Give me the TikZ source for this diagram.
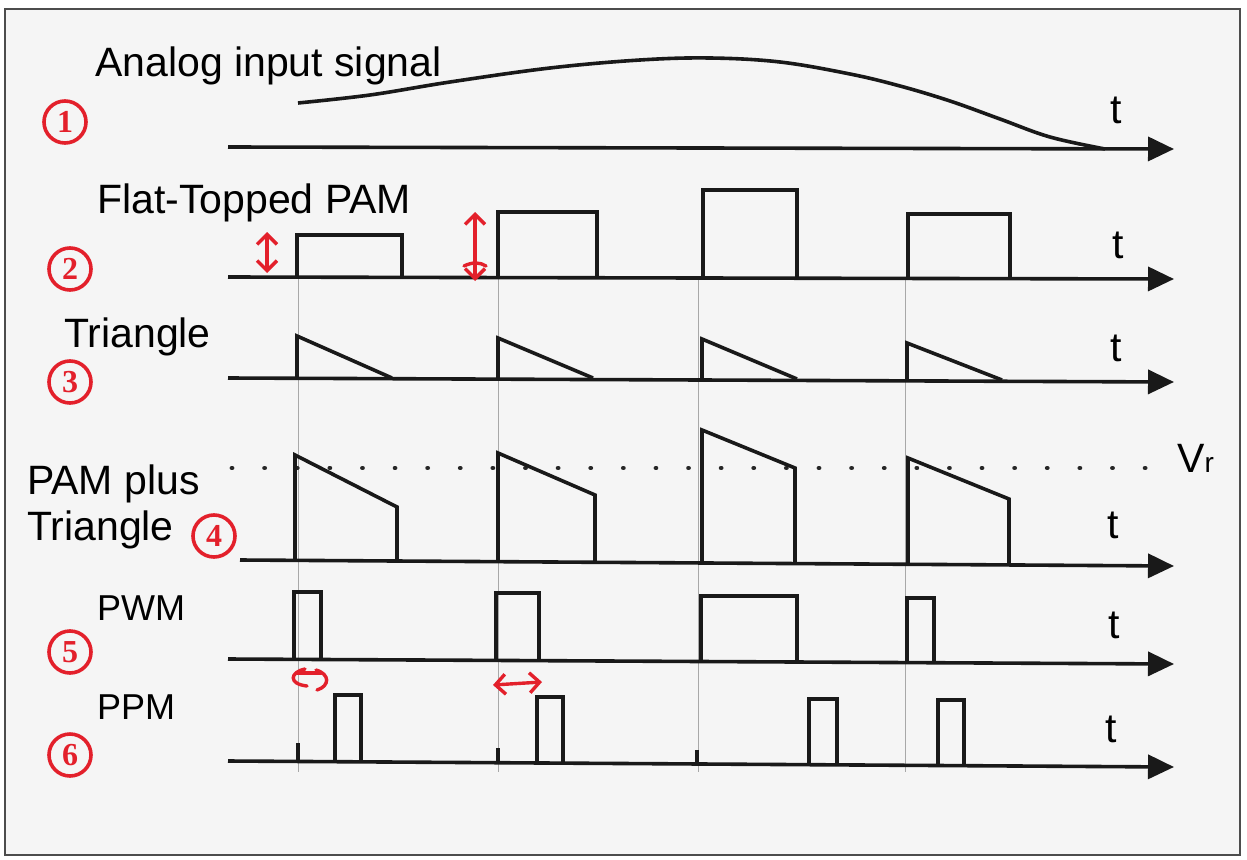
\documentclass[tikz,border=0pt]{standalone}
\usepackage{fontspec}
\setmainfont{Liberation Sans}
\newfontfamily\numfont{Liberation Serif}
\usetikzlibrary{arrows.meta}
\definecolor{penred}{HTML}{E3202B}
\definecolor{bgpaper}{HTML}{F5F5F5}
\definecolor{gridgrey}{HTML}{A8A8A8}
\begin{document}
\begin{tikzpicture}[x=1pt,y=-1pt,
  sig/.style={line width=3.6pt,line join=miter,black!90},
  axis/.style={line width=3.6pt,black!90,-{Triangle[length=26pt,width=24pt]}},
  guide/.style={line width=1pt,gridgrey},
  lbl/.style={inner sep=0pt,anchor=base west,font=\fontsize{41}{48}\selectfont},
  smalllbl/.style={inner sep=0pt,anchor=base west,font=\fontsize{36}{42}\selectfont},
  tlbl/.style={inner sep=0pt,anchor=base west,font=\fontsize{41}{48}\selectfont},
  circnum/.style={circle,draw=penred,line width=3.6pt,minimum size=42pt,inner sep=0pt,
    text=penred,font=\numfont\bfseries\fontsize{32}{32}\selectfont},
  redpen/.style={penred,line width=3.4pt,line cap=round},
  redarrow/.style={redpen,{Straight Barb[length=10pt,width=20pt]}-{Straight Barb[length=10pt,width=20pt]}}
]
\useasboundingbox (0,0) rectangle (1247,859);
\fill[white] (0,0) rectangle (1247,859);
\draw[fill=bgpaper,draw=black!70,line width=2.2pt] (5,9) rectangle (1240,855);

% guide lines
\foreach \gx in {298,498,698,905}
  \draw[guide] (\gx,277) -- (\gx,772);

% ---------- row 1: analog ----------
\coordinate (a1s) at (228,147);
\coordinate (a1e) at (1174,149);
\draw[axis] (a1s) -- (a1e);
\draw[sig,line join=round] plot[smooth,tension=0.6] coordinates {(298,103) (370,95) (450,82) (550,68) (640,60) (710,58) (780,62) (850,74) (900,86) (950,101) (1000,119) (1050,137) (1105,149)};
\node[lbl] (l1) at (95,77) {Analog input signal};
\node[tlbl] (t1) at (1110,123) {t};
\node[circnum] (c1) at (65,122) {1};

% ---------- row 2: flat-topped PAM ----------
\coordinate (a2s) at (228,277);
\coordinate (a2e) at (1174,279);
\draw[axis] (a2s) -- (a2e);
\draw[sig] (297,277) -- (297,235) -- (402,235) -- (402,277);
\draw[sig] (498,277) -- (498,212) -- (597,212) -- (597,277);
\draw[sig] (703,277) -- (703,190) -- (797,190) -- (797,277);
\draw[sig] (908,277) -- (908,214) -- (1010,214) -- (1010,277);
\node[lbl] (l2) at (97,213) {Flat-Topped PAM};
\node[tlbl] (t2) at (1112,258) {t};
\node[circnum] (c2) at (70,269) {2};
\coordinate (ra1) at (267,232);
\coordinate (ra2) at (267,273);
\draw[redarrow] (ra1) -- (ra2);
\coordinate (rb1) at (475,212);
\coordinate (rb2) at (475,281);
\draw[redarrow] (rb1) -- (rb2);
\draw[redpen] (464,266) .. controls (472,262) and (480,262) .. (486,266);

% ---------- row 3: triangle ----------
\coordinate (a3s) at (228,378);
\coordinate (a3e) at (1174,382);
\draw[axis] (a3s) -- (a3e);
\draw[sig] (297,378) -- (297,336) -- (392,378);
\draw[sig] (498,378) -- (498,338) -- (593,378);
\draw[sig] (702,379) -- (702,339) -- (797,379);
\draw[sig] (907,380) -- (907,343) -- (1002,380);
\node[lbl] (l3) at (64,347) {Triangle};
\node[tlbl] (t3) at (1110,361) {t};
\node[circnum] (c3) at (70,382) {3};

% ---------- row 4: PAM plus triangle ----------
\coordinate (vrs) at (232,468);
\coordinate (vre) at (1170,468);
\draw[line width=4.8pt,black!85,dash pattern=on 0.01pt off 32.6pt,line cap=round] (vrs) -- (vre);
\coordinate (a4s) at (240,560);
\coordinate (a4e) at (1174,566);
\draw[axis] (a4s) -- (a4e);
\draw[sig] (295,560) -- (295,455) -- (397,507) -- (397,561);
\draw[sig] (498,561) -- (498,453) -- (595,495) -- (595,562);
\draw[sig] (702,562) -- (702,430) -- (795,468) -- (795,563);
\draw[sig] (908,563) -- (908,458) -- (1009,499) -- (1009,564);
\node[lbl] (l4a) at (27,494) {PAM plus};
\node[lbl] (l4b) at (27,540) {Triangle};
\node[tlbl] (t4) at (1107,538) {t};
\node[tlbl] (vr) at (1177,472) {V{\fontsize{28}{28}\selectfont r}};
\node[circnum] (c4) at (214,536) {4};

% ---------- row 5: PWM ----------
\coordinate (a5s) at (228,659);
\coordinate (a5e) at (1174,664);
\draw[axis] (a5s) -- (a5e);
\draw[sig] (294,659) -- (294,592) -- (321,592) -- (321,659);
\draw[sig] (496,660) -- (496,593) -- (539,593) -- (539,660);
\draw[sig] (701,661) -- (701,596) -- (797,596) -- (797,661);
\draw[sig] (907,662) -- (907,598) -- (934,598) -- (934,662);
\node[smalllbl] (l5) at (97,620) {PWM};
\node[tlbl] (t5) at (1108,638) {t};
\node[circnum] (c5) at (70,652) {5};
\draw[redpen] (305,669) .. controls (290,672) and (288,684) .. (307,686);
\draw[redpen] (297,673) -- (321,673);
\draw[redpen] (316,670) .. controls (330,674) and (330,686) .. (317,690);
\coordinate (rd1) at (493,685);
\coordinate (rd2) at (542,682);
\draw[redarrow] (rd1) -- (rd2);

% ---------- row 6: PPM ----------
\coordinate (a6s) at (228,761);
\coordinate (a6e) at (1174,767);
\draw[axis] (a6s) -- (a6e);
\draw[sig] (298,761) -- (298,743);
\draw[sig] (498,762) -- (498,748);
\draw[sig] (697,763) -- (697,750);
\draw[sig] (335,761) -- (335,695) -- (361,695) -- (361,762);
\draw[sig] (537,762) -- (537,697) -- (563,697) -- (563,762);
\draw[sig] (809,764) -- (809,699) -- (837,699) -- (837,764);
\draw[sig] (938,765) -- (938,700) -- (964,700) -- (964,765);
\node[smalllbl] (l6) at (97,719) {PPM};
\node[tlbl] (t6) at (1105,742) {t};
\node[circnum] (c6) at (70,755) {6};
\end{tikzpicture}
\end{document}
